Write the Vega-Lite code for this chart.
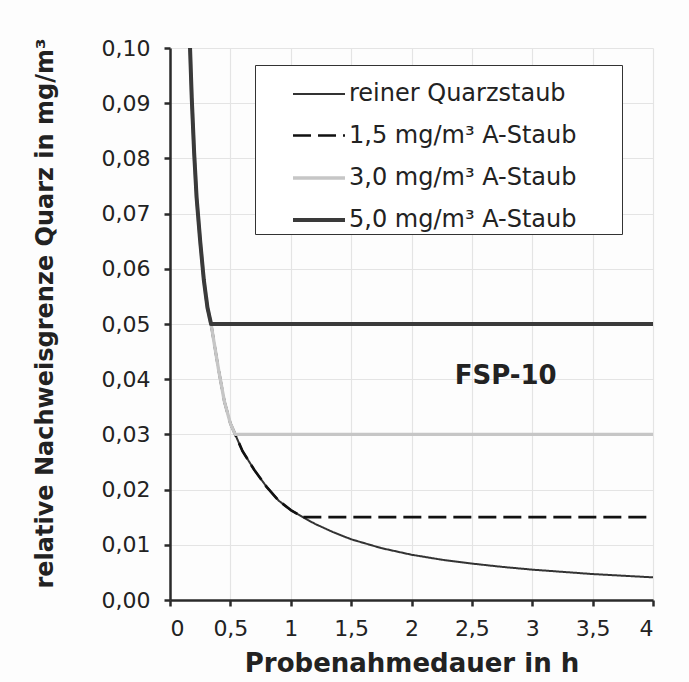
{
  "$schema": "https://vega.github.io/schema/vega-lite/v6.json",
  "width": 483,
  "height": 552,
  "autosize": "none",
  "padding": {"left": 170, "top": 48, "right": 36, "bottom": 82},
  "background": "#fdfdfd",
  "config": {
    "locale": {"number": {"decimal": ",", "thousands": ".", "grouping": [3], "currency": ["", " €"]}},
    "view": {"stroke": null},
    "font": "DejaVu Sans",
    "axis": {
      "domainColor": "#2a2a2a", "domainWidth": 2.5, "tickColor": "#2a2a2a", "tickWidth": 2.5, "tickSize": 6,
      "gridColor": "#e4e4e4", "gridWidth": 1.2,
      "labelFont": "DejaVu Sans", "labelFontSize": 22, "labelColor": "#222",
      "titleFont": "DejaVu Sans", "titleFontWeight": "bold", "titleColor": "#222"
    }
  },
  "datasets": {
    "lines": [
      {"s": "reiner Quarzstaub", "x": 0.166, "y": 0.1},
      {"s": "reiner Quarzstaub", "x": 0.18, "y": 0.091},
      {"s": "reiner Quarzstaub", "x": 0.2, "y": 0.081},
      {"s": "reiner Quarzstaub", "x": 0.22, "y": 0.073},
      {"s": "reiner Quarzstaub", "x": 0.25, "y": 0.065},
      {"s": "reiner Quarzstaub", "x": 0.28, "y": 0.058},
      {"s": "reiner Quarzstaub", "x": 0.31, "y": 0.053},
      {"s": "reiner Quarzstaub", "x": 0.34, "y": 0.05},
      {"s": "reiner Quarzstaub", "x": 0.37, "y": 0.046},
      {"s": "reiner Quarzstaub", "x": 0.4, "y": 0.042},
      {"s": "reiner Quarzstaub", "x": 0.45, "y": 0.036},
      {"s": "reiner Quarzstaub", "x": 0.5, "y": 0.032},
      {"s": "reiner Quarzstaub", "x": 0.54, "y": 0.03},
      {"s": "reiner Quarzstaub", "x": 0.6, "y": 0.027},
      {"s": "reiner Quarzstaub", "x": 0.7, "y": 0.0235},
      {"s": "reiner Quarzstaub", "x": 0.8, "y": 0.0205},
      {"s": "reiner Quarzstaub", "x": 0.9, "y": 0.018},
      {"s": "reiner Quarzstaub", "x": 1.0, "y": 0.0163},
      {"s": "reiner Quarzstaub", "x": 1.1, "y": 0.015},
      {"s": "reiner Quarzstaub", "x": 1.2, "y": 0.0138},
      {"s": "reiner Quarzstaub", "x": 1.35, "y": 0.0123},
      {"s": "reiner Quarzstaub", "x": 1.5, "y": 0.011},
      {"s": "reiner Quarzstaub", "x": 1.75, "y": 0.0094},
      {"s": "reiner Quarzstaub", "x": 2.0, "y": 0.0082},
      {"s": "reiner Quarzstaub", "x": 2.25, "y": 0.0073},
      {"s": "reiner Quarzstaub", "x": 2.5, "y": 0.0066},
      {"s": "reiner Quarzstaub", "x": 2.75, "y": 0.006},
      {"s": "reiner Quarzstaub", "x": 3.0, "y": 0.0055},
      {"s": "reiner Quarzstaub", "x": 3.25, "y": 0.0051},
      {"s": "reiner Quarzstaub", "x": 3.5, "y": 0.0047},
      {"s": "reiner Quarzstaub", "x": 3.75, "y": 0.0044},
      {"s": "reiner Quarzstaub", "x": 4.0, "y": 0.0041},

      {"s": "1,5 mg/m³ A-Staub", "x": 0.166, "y": 0.1},
      {"s": "1,5 mg/m³ A-Staub", "x": 0.18, "y": 0.091},
      {"s": "1,5 mg/m³ A-Staub", "x": 0.2, "y": 0.081},
      {"s": "1,5 mg/m³ A-Staub", "x": 0.22, "y": 0.073},
      {"s": "1,5 mg/m³ A-Staub", "x": 0.25, "y": 0.065},
      {"s": "1,5 mg/m³ A-Staub", "x": 0.28, "y": 0.058},
      {"s": "1,5 mg/m³ A-Staub", "x": 0.31, "y": 0.053},
      {"s": "1,5 mg/m³ A-Staub", "x": 0.34, "y": 0.05},
      {"s": "1,5 mg/m³ A-Staub", "x": 0.37, "y": 0.046},
      {"s": "1,5 mg/m³ A-Staub", "x": 0.4, "y": 0.042},
      {"s": "1,5 mg/m³ A-Staub", "x": 0.45, "y": 0.036},
      {"s": "1,5 mg/m³ A-Staub", "x": 0.5, "y": 0.032},
      {"s": "1,5 mg/m³ A-Staub", "x": 0.54, "y": 0.03},
      {"s": "1,5 mg/m³ A-Staub", "x": 0.6, "y": 0.027},
      {"s": "1,5 mg/m³ A-Staub", "x": 0.7, "y": 0.0235},
      {"s": "1,5 mg/m³ A-Staub", "x": 0.8, "y": 0.0205},
      {"s": "1,5 mg/m³ A-Staub", "x": 0.9, "y": 0.018},
      {"s": "1,5 mg/m³ A-Staub", "x": 1.0, "y": 0.0163},
      {"s": "1,5 mg/m³ A-Staub", "x": 1.1, "y": 0.015},
      {"s": "1,5 mg/m³ A-Staub", "x": 4.0, "y": 0.015},

      {"s": "3,0 mg/m³ A-Staub", "x": 0.166, "y": 0.1},
      {"s": "3,0 mg/m³ A-Staub", "x": 0.18, "y": 0.091},
      {"s": "3,0 mg/m³ A-Staub", "x": 0.2, "y": 0.081},
      {"s": "3,0 mg/m³ A-Staub", "x": 0.22, "y": 0.073},
      {"s": "3,0 mg/m³ A-Staub", "x": 0.25, "y": 0.065},
      {"s": "3,0 mg/m³ A-Staub", "x": 0.28, "y": 0.058},
      {"s": "3,0 mg/m³ A-Staub", "x": 0.31, "y": 0.053},
      {"s": "3,0 mg/m³ A-Staub", "x": 0.34, "y": 0.05},
      {"s": "3,0 mg/m³ A-Staub", "x": 0.37, "y": 0.046},
      {"s": "3,0 mg/m³ A-Staub", "x": 0.4, "y": 0.042},
      {"s": "3,0 mg/m³ A-Staub", "x": 0.45, "y": 0.036},
      {"s": "3,0 mg/m³ A-Staub", "x": 0.5, "y": 0.032},
      {"s": "3,0 mg/m³ A-Staub", "x": 0.54, "y": 0.03},
      {"s": "3,0 mg/m³ A-Staub", "x": 4.0, "y": 0.03},

      {"s": "5,0 mg/m³ A-Staub", "x": 0.166, "y": 0.1},
      {"s": "5,0 mg/m³ A-Staub", "x": 0.18, "y": 0.091},
      {"s": "5,0 mg/m³ A-Staub", "x": 0.2, "y": 0.081},
      {"s": "5,0 mg/m³ A-Staub", "x": 0.22, "y": 0.073},
      {"s": "5,0 mg/m³ A-Staub", "x": 0.25, "y": 0.065},
      {"s": "5,0 mg/m³ A-Staub", "x": 0.28, "y": 0.058},
      {"s": "5,0 mg/m³ A-Staub", "x": 0.31, "y": 0.053},
      {"s": "5,0 mg/m³ A-Staub", "x": 0.34, "y": 0.05},
      {"s": "5,0 mg/m³ A-Staub", "x": 4.0, "y": 0.05}
    ],
    "labels": [{"x": 2.78, "y": 0.0406, "label": "FSP-10"}]
  },
  "layer": [
    {
      "data": {"name": "lines"},
      "mark": {"type": "line", "strokeCap": "butt", "strokeJoin": "round"},
      "encoding": {
        "x": {"field": "x", "type": "quantitative", "scale": {"domain": [0, 4], "nice": false},
              "axis": {"values": [0, 0.5, 1, 1.5, 2, 2.5, 3, 3.5, 4], "format": ".1~f", "title": "Probenahmedauer in h", "titleFontSize": 26, "titlePadding": 11, "labelPadding": 12}},
        "y": {"field": "y", "type": "quantitative", "scale": {"domain": [0, 0.1], "nice": false},
              "axis": {"values": [0, 0.01, 0.02, 0.03, 0.04, 0.05, 0.06, 0.07, 0.08, 0.09, 0.1], "format": ".2f", "title": "relative Nachweisgrenze Quarz in mg/m³", "titleFontSize": 24, "titlePadding": 44, "labelPadding": 14, "titleY": 265}},
        "color": {"field": "s", "type": "nominal",
                  "scale": {"domain": ["reiner Quarzstaub", "1,5 mg/m³ A-Staub", "3,0 mg/m³ A-Staub", "5,0 mg/m³ A-Staub"], "range": ["#333333", "#111111", "#c6c6c6", "#3a3a3a"]},
                  "legend": {"title": " ", "titleOrient": "right", "titleFontSize": 8, "titlePadding": 44, "orient": "none", "legendX": 85, "legendY": 17, "symbolType": "stroke", "symbolSize": 2700,
                             "labelFontSize": 24, "labelFont": "DejaVu Sans", "labelColor": "#222", "labelOffset": 2, "labelLimit": 0,
                             "strokeColor": "#333", "fillColor": "#ffffff", "padding": 2, "symbolOffset": 34, "rowPadding": 2}},
        "strokeWidth": {"field": "s", "type": "nominal",
                  "scale": {"domain": ["reiner Quarzstaub", "1,5 mg/m³ A-Staub", "3,0 mg/m³ A-Staub", "5,0 mg/m³ A-Staub"], "range": [2, 4, 4, 6]}},
        "strokeDash": {"field": "s", "type": "nominal",
                  "scale": {"domain": ["reiner Quarzstaub", "1,5 mg/m³ A-Staub", "3,0 mg/m³ A-Staub", "5,0 mg/m³ A-Staub"], "range": [[1, 0], [18, 7], [1, 0], [1, 0]]}},
        "order": {"field": "x", "type": "quantitative"}
      }
    },
    {
      "data": {"name": "labels"},
      "mark": {"type": "text", "fontSize": 26, "fontWeight": "bold", "font": "DejaVu Sans", "color": "#222"},
      "encoding": {
        "x": {"field": "x", "type": "quantitative"},
        "y": {"field": "y", "type": "quantitative"},
        "text": {"field": "label"}
      }
    }
  ]
}
